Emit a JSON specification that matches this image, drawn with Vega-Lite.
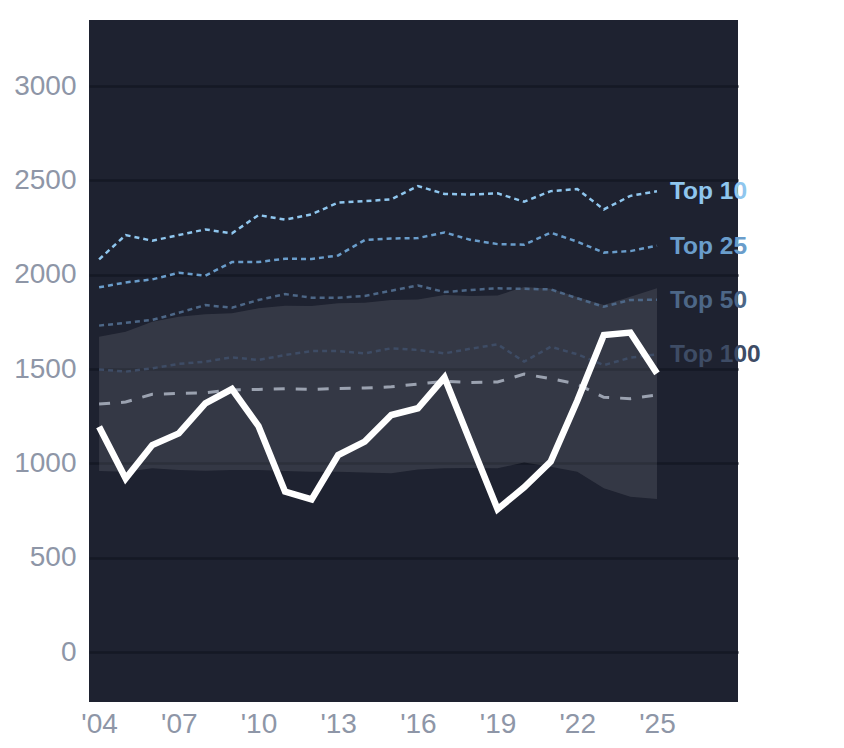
{
  "$schema": "https://vega.github.io/schema/vega-lite/v6.json",
  "autosize": {"type": "none"},
  "padding": {"left": 89, "top": 20, "right": 106, "bottom": 46},
  "width": 649,
  "height": 682,
  "background": "white",
  "data": {
    "values": [
      {"year": 2004, "main": 1194, "lo": 959, "hi": 1671, "avg": 1314, "Top 10": 2081, "Top 25": 1933, "Top 50": 1730, "Top 100": 1498},
      {"year": 2005, "main": 920, "lo": 956, "hi": 1698, "avg": 1325, "Top 10": 2210, "Top 25": 1959, "Top 50": 1745, "Top 100": 1486},
      {"year": 2006, "main": 1097, "lo": 974, "hi": 1751, "avg": 1366, "Top 10": 2180, "Top 25": 1975, "Top 50": 1760, "Top 100": 1504},
      {"year": 2007, "main": 1159, "lo": 965, "hi": 1777, "avg": 1371, "Top 10": 2210, "Top 25": 2010, "Top 50": 1798, "Top 100": 1527},
      {"year": 2008, "main": 1318, "lo": 961, "hi": 1790, "avg": 1374, "Top 10": 2240, "Top 25": 1995, "Top 50": 1839, "Top 100": 1539},
      {"year": 2009, "main": 1394, "lo": 965, "hi": 1795, "avg": 1389, "Top 10": 2219, "Top 25": 2067, "Top 50": 1825, "Top 100": 1562},
      {"year": 2010, "main": 1198, "lo": 965, "hi": 1822, "avg": 1392, "Top 10": 2316, "Top 25": 2067, "Top 50": 1866, "Top 100": 1548},
      {"year": 2011, "main": 850, "lo": 960, "hi": 1836, "avg": 1396, "Top 10": 2292, "Top 25": 2085, "Top 50": 1897, "Top 100": 1574},
      {"year": 2012, "main": 809, "lo": 956, "hi": 1834, "avg": 1392, "Top 10": 2320, "Top 25": 2083, "Top 50": 1878, "Top 100": 1595},
      {"year": 2013, "main": 1044, "lo": 956, "hi": 1848, "avg": 1397, "Top 10": 2382, "Top 25": 2102, "Top 50": 1878, "Top 100": 1595},
      {"year": 2014, "main": 1115, "lo": 952, "hi": 1851, "avg": 1399, "Top 10": 2390, "Top 25": 2184, "Top 50": 1887, "Top 100": 1583},
      {"year": 2015, "main": 1256, "lo": 947, "hi": 1866, "avg": 1406, "Top 10": 2399, "Top 25": 2192, "Top 50": 1915, "Top 100": 1610},
      {"year": 2016, "main": 1292, "lo": 968, "hi": 1869, "avg": 1420, "Top 10": 2470, "Top 25": 2194, "Top 50": 1943, "Top 100": 1601},
      {"year": 2017, "main": 1455, "lo": 974, "hi": 1892, "avg": 1435, "Top 10": 2428, "Top 25": 2224, "Top 50": 1908, "Top 100": 1583},
      {"year": 2018, "main": 1105, "lo": 976, "hi": 1887, "avg": 1429, "Top 10": 2425, "Top 25": 2184, "Top 50": 1919, "Top 100": 1608},
      {"year": 2019, "main": 757, "lo": 974, "hi": 1890, "avg": 1431, "Top 10": 2431, "Top 25": 2162, "Top 50": 1928, "Top 100": 1631},
      {"year": 2020, "main": 873, "lo": 1005, "hi": 1935, "avg": 1473, "Top 10": 2387, "Top 25": 2159, "Top 50": 1925, "Top 100": 1539},
      {"year": 2021, "main": 1009, "lo": 982, "hi": 1926, "avg": 1449, "Top 10": 2443, "Top 25": 2223, "Top 50": 1922, "Top 100": 1618},
      {"year": 2022, "main": 1332, "lo": 956, "hi": 1882, "avg": 1420, "Top 10": 2454, "Top 25": 2175, "Top 50": 1875, "Top 100": 1578},
      {"year": 2023, "main": 1680, "lo": 868, "hi": 1839, "avg": 1350, "Top 10": 2346, "Top 25": 2117, "Top 50": 1830, "Top 100": 1521},
      {"year": 2024, "main": 1693, "lo": 823, "hi": 1883, "avg": 1343, "Top 10": 2418, "Top 25": 2125, "Top 50": 1866, "Top 100": 1560},
      {"year": 2025, "main": 1477, "lo": 811, "hi": 1928, "avg": 1362, "Top 10": 2442, "Top 25": 2154, "Top 50": 1867, "Top 100": 1578}
    ]
  },
  "encoding": {
    "x": {
      "field": "year",
      "type": "quantitative",
      "scale": {"domain": [2003.62, 2028.05], "nice": false, "zero": false},
      "axis": {
        "values": [2004, 2007, 2010, 2013, 2016, 2019, 2022, 2025],
        "labelExpr": "\"'\" + substring(toString(datum.value), 2)",
        "grid": false,
        "domain": false,
        "ticks": false,
        "labelPadding": 8,
        "title": null
      }
    }
  },
  "layer": [
    {
      "mark": {"type": "area", "color": "white", "opacity": 0.1},
      "encoding": {
        "y": {
          "field": "lo",
          "type": "quantitative",
          "scale": {"domain": [-265, 3350], "nice": false, "zero": false},
          "axis": {
            "values": [0, 500, 1000, 1500, 2000, 2500, 3000],
            "format": "d",
            "grid": true,
            "gridColor": "#151924",
            "gridWidth": 2.5,
            "gridOpacity": 1,
            "domain": false,
            "ticks": false,
            "labelPadding": 13,
            "title": null
          }
        },
        "y2": {"field": "hi"}
      }
    },
    {
      "transform": [{"fold": ["Top 10", "Top 25", "Top 50", "Top 100"], "as": ["key", "val"]}],
      "mark": {"type": "line", "strokeWidth": 2.5, "strokeDash": [5, 4]},
      "encoding": {
        "y": {"field": "val", "type": "quantitative"},
        "color": {
          "field": "key",
          "type": "nominal",
          "scale": {
            "domain": ["Top 10", "Top 25", "Top 50", "Top 100"],
            "range": ["#8fc6ee", "#6a9dcb", "#4d6787", "#3e4c65"]
          },
          "legend": null
        },
        "detail": {"field": "key"}
      }
    },
    {
      "mark": {"type": "line", "color": "#9ba2b0", "strokeWidth": 3, "strokeDash": [11, 11]},
      "encoding": {"y": {"field": "avg", "type": "quantitative"}}
    },
    {
      "mark": {"type": "line", "color": "white", "strokeWidth": 6.5},
      "encoding": {"y": {"field": "main", "type": "quantitative"}}
    },
    {
      "transform": [
        {"filter": "datum.year == 2025"},
        {"fold": ["Top 10", "Top 25", "Top 50", "Top 100"], "as": ["key", "val"]}
      ],
      "mark": {"type": "text", "align": "left", "baseline": "middle", "dx": 13, "dy": 1, "fontSize": 24.5, "fontWeight": "bold", "font": "Liberation Sans"},
      "encoding": {
        "y": {"field": "val", "type": "quantitative"},
        "text": {"field": "key"},
        "color": {"field": "key", "type": "nominal", "legend": null}
      }
    }
  ],
  "config": {
    "view": {"fill": "#1e2230", "stroke": null},
    "axis": {
      "labelFont": "Liberation Sans",
      "labelFontSize": 28,
      "labelColor": "#8e96a7"
    }
  }
}
